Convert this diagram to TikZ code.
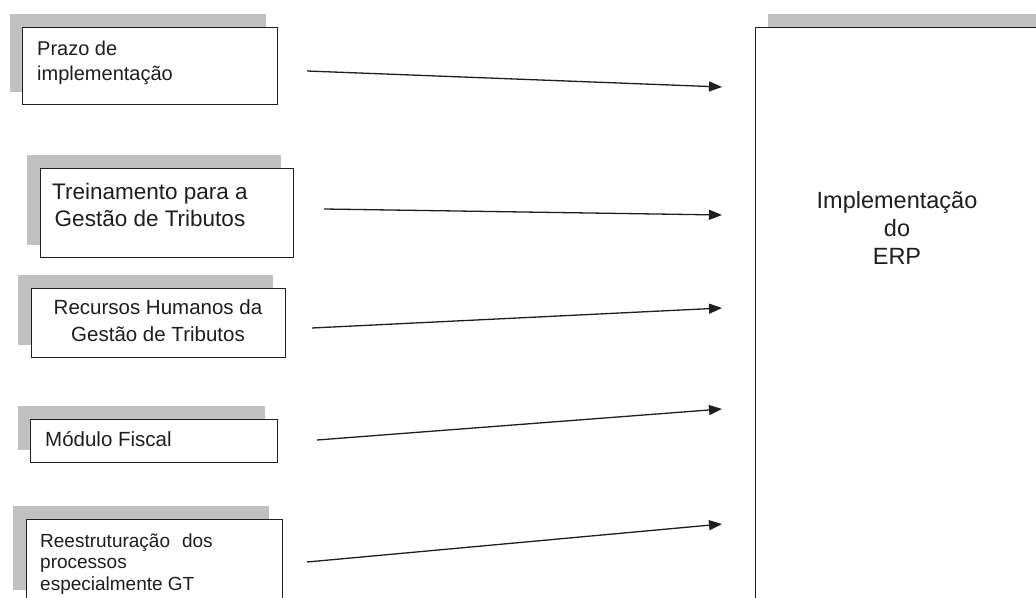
\documentclass[tikz,border=0pt]{standalone}
\usepackage{fontspec}
\setmainfont{Liberation Sans}
\usetikzlibrary{arrows.meta}
\definecolor{shade}{HTML}{C0C0C0}
\definecolor{ink}{HTML}{1E1E1E}
\begin{document}
\begin{tikzpicture}[x=1pt,y=-1pt,
  shadowbox/.style={fill=shade,draw=none,inner sep=0pt,anchor=north west},
  frontbox/.style={fill=white,draw=ink,line width=1.4pt,inner sep=0pt,anchor=north west},
  lbl/.style={inner sep=0pt,text=ink,anchor=base west},
  clbl/.style={inner sep=0pt,text=ink,anchor=base},
  arr/.style={draw=ink,line width=1.3pt,-{Triangle[length=13pt,width=10pt]}}]
\useasboundingbox (0,0) rectangle (1036,597);
\clip (0,0) rectangle (1036,597);
\fill[white] (0,0) rectangle (1036,597);
% shadows
\node[shadowbox,minimum width=256pt,minimum height=78pt] (s1) at (10,14) {};
\node[shadowbox,minimum width=254pt,minimum height=90pt] (s2) at (27,155) {};
\node[shadowbox,minimum width=255pt,minimum height=70pt] (s3) at (18,275) {};
\node[shadowbox,minimum width=247pt,minimum height=44pt] (s4) at (18,406) {};
\node[shadowbox,minimum width=256pt,minimum height=84pt] (s5) at (13,506) {};
\node[shadowbox,minimum width=290pt,minimum height=100pt] (sb) at (768,14) {};
% front boxes
\node[frontbox,minimum width=255pt,minimum height=77pt] (b1) at (22,27) {};
\node[frontbox,minimum width=253pt,minimum height=89pt] (b2) at (40,168) {};
\node[frontbox,minimum width=254pt,minimum height=69pt] (b3) at (31,288) {};
\node[frontbox,minimum width=247pt,minimum height=43pt] (b4) at (30,419) {};
\node[frontbox,minimum width=256pt,minimum height=95pt] (b5) at (26,519) {};
\node[frontbox,minimum width=300pt,minimum height=600pt] (bb) at (755,27) {};
% texts
\node[lbl,font=\fontsize{20}{24}\selectfont] (t1a) at (37,55) {Prazo de};
\node[lbl,font=\fontsize{20}{24}\selectfont] (t1b) at (37,80) {implementação};
\node[clbl,font=\fontsize{22.5}{27}\selectfont] (t2a) at (150,199) {Treinamento para a};
\node[clbl,font=\fontsize{22.5}{27}\selectfont] (t2b) at (150,226) {Gestão de Tributos};
\node[clbl,font=\fontsize{20.5}{24}\selectfont] (t3a) at (158,314) {Recursos Humanos da};
\node[clbl,font=\fontsize{20.5}{24}\selectfont] (t3b) at (158,341) {Gestão de Tributos};
\node[lbl,font=\fontsize{20.5}{24}\selectfont] (t4) at (45,446) {Módulo Fiscal};
\node[lbl,font=\fontsize{19}{23}\selectfont] (t5a) at (40,547) {Reestruturação\hspace{12pt}dos};
\node[lbl,font=\fontsize{19}{23}\selectfont] (t5b) at (40,568) {processos};
\node[lbl,font=\fontsize{19}{23}\selectfont] (t5c) at (40,590) {especialmente GT};
\node[clbl,font=\fontsize{23.5}{28}\selectfont] (tba) at (897,208) {Implementação};
\node[clbl,font=\fontsize{23.5}{28}\selectfont] (tbb) at (897,236) {do};
\node[clbl,font=\fontsize{23.5}{28}\selectfont] (tbc) at (897,264) {ERP};
% arrow end points
\coordinate (a1) at (307,71);  \coordinate (e1) at (722,87);
\coordinate (a2) at (324,209); \coordinate (e2) at (722,215);
\coordinate (a3) at (312,328); \coordinate (e3) at (722,308);
\coordinate (a4) at (317,440); \coordinate (e4) at (722,409);
\coordinate (a5) at (307,562); \coordinate (e5) at (722,524);
\draw[arr] (a1) -- (e1);
\draw[arr] (a2) -- (e2);
\draw[arr] (a3) -- (e3);
\draw[arr] (a4) -- (e4);
\draw[arr] (a5) -- (e5);
\end{tikzpicture}
\end{document}
